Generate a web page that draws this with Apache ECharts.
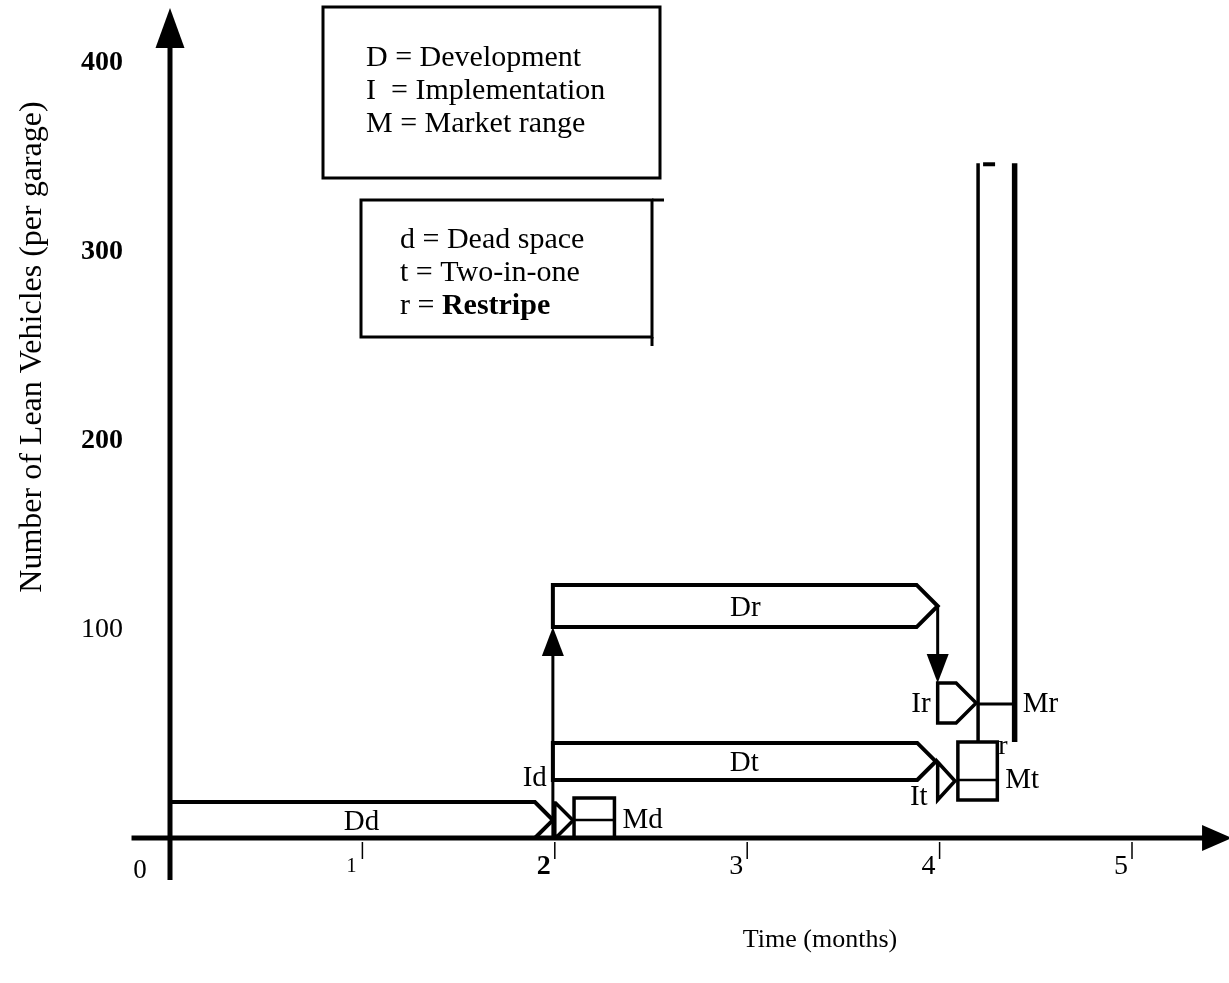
<!DOCTYPE html>
<html>
<head>
<meta charset="utf-8">
<script src="https://cdn.jsdelivr.net/npm/echarts/dist/echarts.min.js"></script>
<style>
html,body{margin:0;padding:0;background:#ffffff;}
#chart{width:1229px;height:983px;}
</style>
</head>
<body>
<div id="chart"></div>
<script>
// ---------------- data ----------------
const xTickValues = [1, 2, 3, 4, 5];
const xTickLabels = ['1', '2', '3', '4', '5'];
const yTickValues = [0, 100, 200, 300, 400];
const yTickLabels = ['0', '100', '200', '300', '400'];

// Development phases (arrow-shaped boxes): time start, time of tip, low value, high value
const devNames = ['Dd', 'Dt', 'Dr'];
const devStart = [0, 1.99, 1.99];
const devEnd   = [1.99, 3.98, 3.99];
const devLow   = [0, 30.7, 111.6];
const devHigh  = [19.0, 50.3, 133.9];

// Implementation phases
const implNames = ['Id', 'It', 'Ir'];
const implStart = [2.0, 3.99, 3.99];
const implEnd   = [2.095, 4.08, 4.19];
const implLow   = [0, 20.1, 60.8];
const implHigh  = [18.5, 40.2, 82.0];

// Market ranges
const mktNames = ['Md', 'Mt', 'Mr'];
const mktStart = [2.10, 4.095, 4.20];
const mktEnd   = [2.31, 4.30, 4.39];
const mktLow   = [0, 20.1, 50.8];
const mktHigh  = [21.2, 50.8, 357];
const mktLevel = [9.5, 30.7, 70.9];

// Transition arrows (Id -> Dr up, Dr -> Ir down)
const linkX0 = [1.99, 3.99];
const linkY0 = [0, 122.7];
const linkX1 = [1.99, 3.99];
const linkY1 = [111.6, 82.0];

// Main axis lines (x axis, y axis)
const axisX0 = [-0.2, 0];
const axisY0 = [0, -22.2];
const axisX1 = [5.52, 0];
const axisY1 = [0, 439.2];

const legendPhases = ['D = Development', 'I  = Implementation', 'M = Market range'];
const legendOptions = ['d = Dead space', 't = Two-in-one', 'r = '];
const legendOptionsBold = ['', '', 'Restripe'];

const xTitle = 'Time (months)';
const yTitle = 'Number of Lean Vehicles (per garage)';

// ---------------- layout ----------------
const W = 1229, H = 983;
const ORIGIN_X = 170, ORIGIN_Y = 838;
const PX_PER_MONTH = 192.4, PX_PER_UNIT = 1.89;
const FONT = '"Liberation Serif", "Times New Roman", serif';
const BLACK = '#000000';

function arrowParts(p0, p1, lw, headLen, headHalf) {
  const dx = p1[0] - p0[0], dy = p1[1] - p0[1];
  const len = Math.hypot(dx, dy) || 1;
  const ux = dx / len, uy = dy / len;
  const bx = p1[0] - ux * headLen, by = p1[1] - uy * headLen;
  const nx = -uy, ny = ux;
  return [
    {type: 'line', shape: {x1: p0[0], y1: p0[1], x2: bx + ux * 2, y2: by + uy * 2},
     style: {stroke: BLACK, lineWidth: lw}},
    {type: 'polygon', shape: {points: [[p1[0], p1[1]], [bx + nx * headHalf, by + ny * headHalf], [bx - nx * headHalf, by - ny * headHalf]]},
     style: {fill: BLACK, stroke: null}}
  ];
}

function pentagonPoints(api, s, e, lo, hi) {
  const pl = api.coord([s, lo]);
  const ph = api.coord([s, hi]);
  const tip = api.coord([e, (lo + hi) / 2]);
  const half = (pl[1] - ph[1]) / 2;
  const bodyEnd = Math.max(pl[0], tip[0] - half);
  return {
    pts: [[pl[0], ph[1]], [bodyEnd, ph[1]], [tip[0], tip[1]], [bodyEnd, pl[1]], [pl[0], pl[1]]],
    left: pl[0], tip: tip, top: ph[1], bottom: pl[1]
  };
}

const implLabelOffset = {Id: [-8, -42], It: [-10, 16], Ir: [-7, 1]};

const option = {
  animation: false,
  backgroundColor: '#ffffff',
  grid: {left: 0, right: 0, top: 0, bottom: 0, containLabel: false},
  xAxis: {type: 'value', min: -ORIGIN_X / PX_PER_MONTH, max: (W - ORIGIN_X) / PX_PER_MONTH, show: false},
  yAxis: {type: 'value', min: -(H - ORIGIN_Y) / PX_PER_UNIT, max: ORIGIN_Y / PX_PER_UNIT, show: false},
  series: [
    { // main axes with arrow heads
      type: 'custom', silent: true, clip: false,
      data: axisX0.map((v, i) => [v, axisY0[i], axisX1[i], axisY1[i]]),
      renderItem: function (params, api) {
        const p0 = api.coord([api.value(0), api.value(1)]);
        const p1 = api.coord([api.value(2), api.value(3)]);
        const isY = params.dataIndex === 1;
        return {type: 'group', children: arrowParts(p0, p1, 5, isY ? 40 : 30, isY ? 14.5 : 13)};
      }
    },
    { // x ticks and labels
      type: 'custom', silent: true, clip: false,
      data: xTickValues.map(v => [v]),
      renderItem: function (params, api) {
        const p = api.coord([api.value(0), 0]);
        const lbl = xTickLabels[params.dataIndex];
        const small = lbl === '1';
        const bold = lbl === '2';
        return {type: 'group', children: [
          {type: 'line', shape: {x1: p[0], y1: p[1] + 4, x2: p[0], y2: p[1] + 21}, style: {stroke: BLACK, lineWidth: 1.5}},
          {type: 'text', x: p[0] - 11, y: p[1] + 29,
           style: {text: lbl, fill: BLACK, font: (bold ? 'bold ' : '') + (small ? 20 : 28) + 'px ' + FONT,
                   textAlign: 'center', textVerticalAlign: 'middle'}}
        ]};
      }
    },
    { // y tick labels
      type: 'custom', silent: true, clip: false,
      data: yTickValues.map(v => [v]),
      renderItem: function (params, api) {
        const v = api.value(0);
        const p = api.coord([0, v]);
        const lbl = yTickLabels[params.dataIndex];
        if (v === 0) {
          return {type: 'text', x: p[0] - 30, y: p[1] + 33,
                  style: {text: lbl, fill: BLACK, font: '27px ' + FONT, textAlign: 'center', textVerticalAlign: 'middle'}};
        }
        const bold = v >= 200;
        return {type: 'text', x: p[0] - 47, y: p[1] - 19,
                style: {text: lbl, fill: BLACK, font: (bold ? 'bold ' : '') + '28px ' + FONT, textAlign: 'right', textVerticalAlign: 'middle'}};
      }
    },
    { // development arrows
      type: 'custom', silent: true, clip: false,
      data: devNames.map((n, i) => [devStart[i], devEnd[i], devLow[i], devHigh[i]]),
      renderItem: function (params, api) {
        const g = pentagonPoints(api, api.value(0), api.value(1), api.value(2), api.value(3));
        return {type: 'group', children: [
          {type: 'polygon', shape: {points: g.pts}, style: {fill: 'none', stroke: BLACK, lineWidth: 4, lineJoin: 'miter'}},
          {type: 'text', x: (g.left + g.tip[0]) / 2, y: g.tip[1] + 2,
           style: {text: devNames[params.dataIndex], fill: BLACK, font: '29px ' + FONT, textAlign: 'center', textVerticalAlign: 'middle'}}
        ]};
      }
    },
    { // implementation arrows
      type: 'custom', silent: true, clip: false,
      data: implNames.map((n, i) => [implStart[i], implEnd[i], implLow[i], implHigh[i]]),
      renderItem: function (params, api) {
        const g = pentagonPoints(api, api.value(0), api.value(1), api.value(2), api.value(3));
        const name = implNames[params.dataIndex];
        const off = implLabelOffset[name];
        return {type: 'group', children: [
          {type: 'polygon', shape: {points: g.pts}, style: {fill: 'none', stroke: BLACK, lineWidth: 3.5, lineJoin: 'miter'}},
          {type: 'text', x: g.left + off[0], y: g.tip[1] + off[1],
           style: {text: name, fill: BLACK, font: '29px ' + FONT, textAlign: 'right', textVerticalAlign: 'middle'}}
        ]};
      }
    },
    { // market ranges
      type: 'custom', silent: true, clip: false,
      data: mktNames.map((n, i) => [mktStart[i], mktEnd[i], mktLow[i], mktHigh[i], mktLevel[i]]),
      renderItem: function (params, api) {
        const name = mktNames[params.dataIndex];
        const a = api.coord([api.value(0), api.value(2)]);
        const b = api.coord([api.value(1), api.value(3)]);
        const lv = api.coord([api.value(0), api.value(4)])[1];
        const children = [];
        if (name === 'Mr') {
          children.push({type: 'line', shape: {x1: a[0], y1: a[1], x2: a[0], y2: b[1]}, style: {stroke: BLACK, lineWidth: 3.5}});
          children.push({type: 'line', shape: {x1: b[0], y1: a[1], x2: b[0], y2: b[1]}, style: {stroke: BLACK, lineWidth: 5.5}});
          children.push({type: 'line', shape: {x1: a[0], y1: lv, x2: b[0], y2: lv}, style: {stroke: BLACK, lineWidth: 3}});
          children.push({type: 'line', shape: {x1: a[0] + 5, y1: b[1] + 1, x2: a[0] + 17, y2: b[1] + 1}, style: {stroke: BLACK, lineWidth: 4}});
        } else {
          children.push({type: 'rect', shape: {x: a[0], y: b[1], width: b[0] - a[0], height: a[1] - b[1]},
                         style: {fill: 'none', stroke: BLACK, lineWidth: 3.5}});
          children.push({type: 'line', shape: {x1: a[0], y1: lv, x2: b[0], y2: lv}, style: {stroke: BLACK, lineWidth: 2.5}});
        }
        children.push({type: 'text', x: b[0] + 8, y: lv,
                       style: {text: name, fill: BLACK, font: '29px ' + FONT, textAlign: 'left', textVerticalAlign: 'middle'}});
        if (name === 'Mt') {
          children.push({type: 'text', x: b[0] + 1, y: b[1] + 5,
                         style: {text: 'r', fill: BLACK, font: '28px ' + FONT, textAlign: 'left', textVerticalAlign: 'middle'}});
        }
        return {type: 'group', children: children};
      }
    },
    { // transition arrows
      type: 'custom', silent: true, clip: false,
      data: linkX0.map((v, i) => [v, linkY0[i], linkX1[i], linkY1[i]]),
      renderItem: function (params, api) {
        const p0 = api.coord([api.value(0), api.value(1)]);
        const p1 = api.coord([api.value(2), api.value(3)]);
        return {type: 'group', children: arrowParts(p0, p1, 3, 29, 11)};
      }
    }
  ],
  graphic: [
    {type: 'rect', shape: {x: 323, y: 7, width: 337, height: 171}, style: {fill: 'none', stroke: BLACK, lineWidth: 3}},
    {type: 'rect', shape: {x: 361, y: 200, width: 291, height: 137}, style: {fill: 'none', stroke: BLACK, lineWidth: 3}},
    {type: 'line', shape: {x1: 652, y1: 200, x2: 664, y2: 200}, style: {stroke: BLACK, lineWidth: 3}},
    {type: 'line', shape: {x1: 652, y1: 337, x2: 652, y2: 346}, style: {stroke: BLACK, lineWidth: 3}},
    ...legendPhases.map((t, i) => ({
      type: 'text', x: 366, y: 58 + i * 33,
      style: {text: t, fill: BLACK, font: '30px ' + FONT, textAlign: 'left', textVerticalAlign: 'middle'}
    })),
    ...legendOptions.map((t, i) => ({
      type: 'text', x: 400, y: 240 + i * 33,
      style: {
        text: t + (legendOptionsBold[i] ? '{b|' + legendOptionsBold[i] + '}' : ''),
        fill: BLACK, font: '30px ' + FONT, textAlign: 'left', textVerticalAlign: 'middle',
        rich: {b: {fontFamily: FONT, fontSize: 30, fontWeight: 'bold', fill: BLACK}}
      }
    })),
    {type: 'text', x: 820, y: 940, style: {text: xTitle, fill: BLACK, font: '26px ' + FONT, textAlign: 'center', textVerticalAlign: 'middle'}},
    {type: 'text', x: 33, y: 347, rotation: Math.PI / 2,
     style: {text: yTitle, fill: BLACK, font: '32px ' + FONT, textAlign: 'center', textVerticalAlign: 'middle'}}
  ]
};

const chart = echarts.init(document.getElementById('chart'), null, {renderer: 'canvas', width: W, height: H});
chart.setOption(option);
</script>
</body>
</html>
